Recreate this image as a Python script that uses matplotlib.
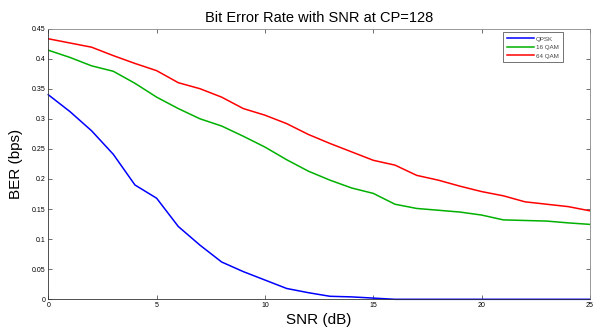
import matplotlib
matplotlib.use("Agg")
import matplotlib.pyplot as plt

snr = list(range(0, 26))
qpsk = [0.340, 0.312, 0.280, 0.241, 0.190, 0.168, 0.121, 0.090, 0.062, 0.046,
        0.032, 0.018, 0.011, 0.005, 0.004, 0.002, 0.0, 0.0, 0.0, 0.0,
        0.0, 0.0, 0.0, 0.0, 0.0, 0.0]
qam16 = [0.414, 0.402, 0.388, 0.379, 0.359, 0.336, 0.317, 0.300, 0.288, 0.271,
         0.253, 0.232, 0.213, 0.198, 0.185, 0.176, 0.158, 0.151, 0.148, 0.145,
         0.140, 0.132, 0.131, 0.130, 0.127, 0.1245]
qam64 = [0.433, 0.426, 0.419, 0.405, 0.392, 0.380, 0.360, 0.350, 0.336, 0.317,
         0.306, 0.292, 0.274, 0.259, 0.245, 0.231, 0.223, 0.206, 0.198, 0.188,
         0.179, 0.172, 0.162, 0.158, 0.154, 0.147]
labels = ["QPSK", "16 QAM", "64 QAM"]
xticks = [0, 5, 10, 15, 20, 25]
yticks = [0, 0.05, 0.1, 0.15, 0.2, 0.25, 0.3, 0.35, 0.4, 0.45]
ytick_labels = ["0", "0.05", "0.1", "0.15", "0.2", "0.25", "0.3", "0.35", "0.4", "0.45"]

plt.rcParams['font.family'] = ['Liberation Sans', 'DejaVu Sans']

fig = plt.figure(figsize=(5.96, 3.27), dpi=100)
ax = fig.add_axes([0.081, 0.0847, 0.909, 0.828])

ax.plot(snr, qpsk, color='#0000ff', lw=1.1, label=labels[0], clip_on=False)
ax.plot(snr, qam16, color='#00b000', lw=1.1, label=labels[1])
ax.plot(snr, qam64, color='#ff0000', lw=1.1, label=labels[2])

ax.set_xlim(0, 25)
ax.set_ylim(0, 0.45)
ax.set_xticks(xticks)
ax.set_xticklabels([str(t) for t in xticks])
ax.set_yticks(yticks)
ax.set_yticklabels(ytick_labels)
ax.tick_params(direction='in', length=3, width=0.6, labelsize=5,
               top=True, right=True, color='#555555', pad=2)
for s in ax.spines.values():
    s.set_color('#888888')
    s.set_linewidth(0.6)
ax.spines['left'].set_color('#333333')
ax.spines['bottom'].set_color('#333333')

ax.set_title("Bit Error Rate with SNR at CP=128", fontsize=10.5, pad=5)
ax.set_xlabel("SNR (dB)", fontsize=11, labelpad=3)
ax.set_ylabel("BER (bps)", fontsize=11, labelpad=6)

leg = ax.legend(loc='upper right', fontsize=4.5, frameon=True, fancybox=False,
                edgecolor='#333333', handlelength=4.3, handletextpad=0.3,
                borderpad=0.6, labelspacing=0.5,
                bbox_to_anchor=(0.955, 0.997))
leg.get_frame().set_linewidth(0.6)
for t in leg.get_texts():
    t.set_color('#444444')

fig.savefig("out.png", dpi=100)
